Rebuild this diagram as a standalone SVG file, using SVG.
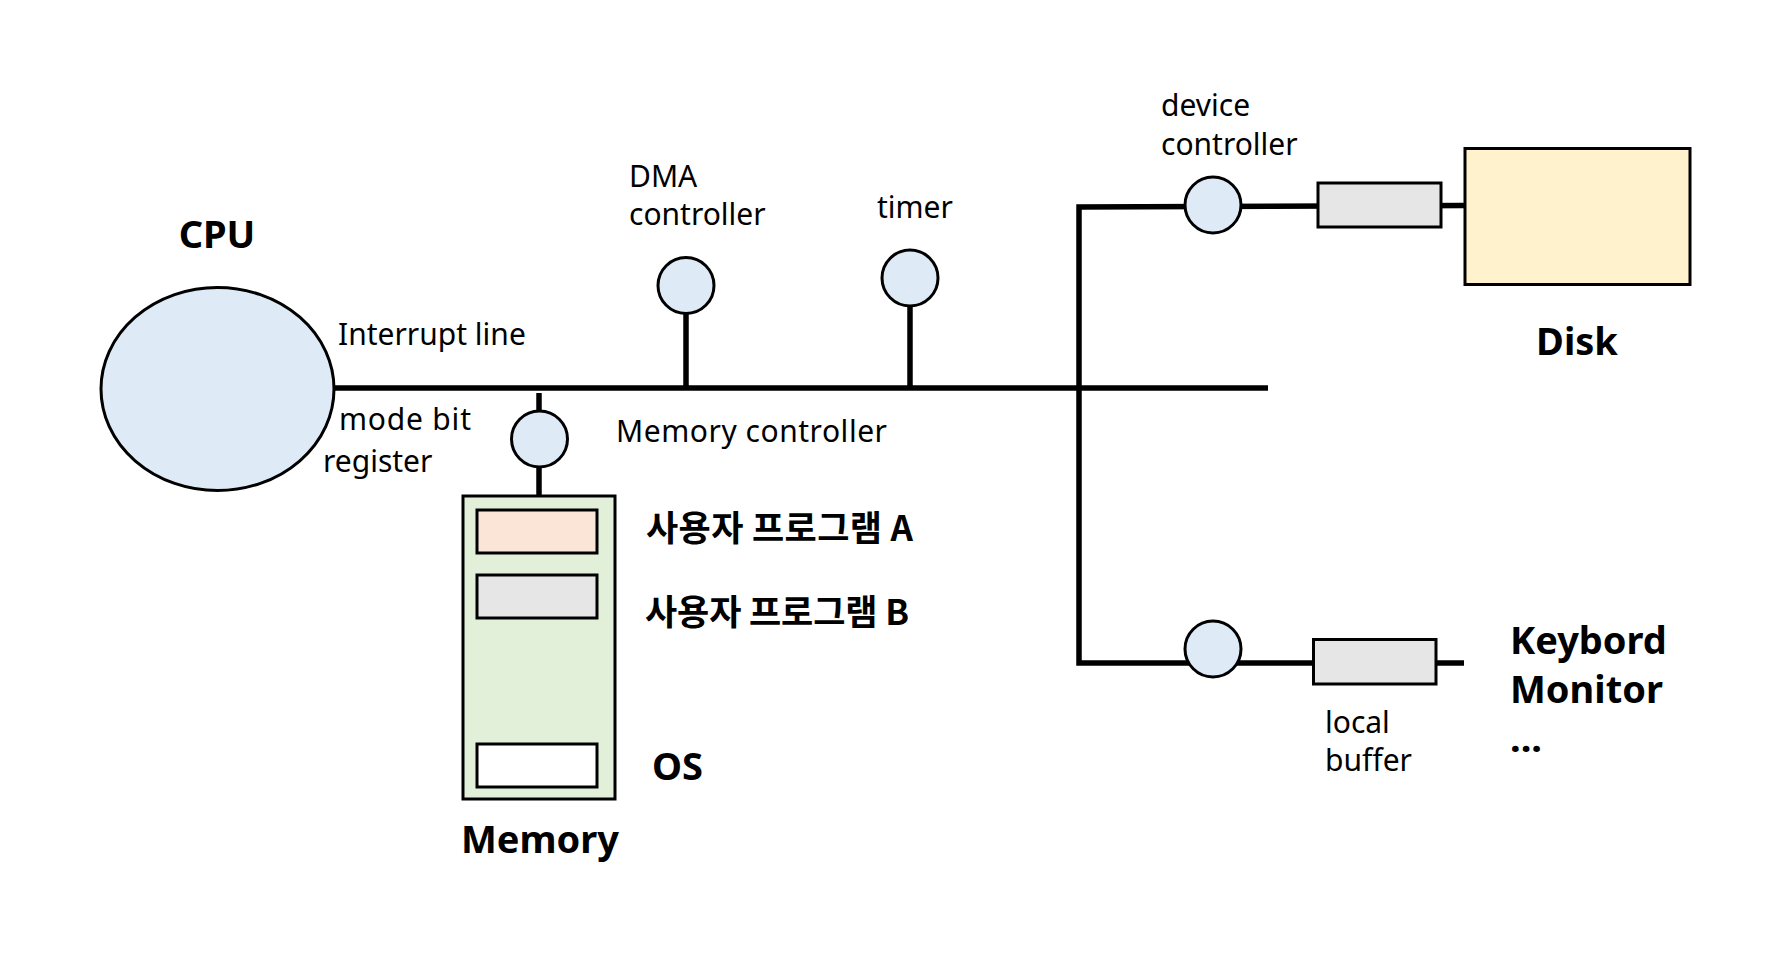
<svg xmlns="http://www.w3.org/2000/svg" width="1786" height="965" viewBox="0 0 1786 965">
<style>
.wire{stroke:#000;stroke-width:5.5;fill:none}
.node{stroke:#000;stroke-width:3}
.ctl{fill:#DEEBF7;stroke:#000;stroke-width:3}
.buf{fill:#E6E6E6;stroke:#000;stroke-width:3}
.lbl{font-family:"Noto Sans","Open Sans","Liberation Sans",sans-serif;font-size:30px;fill:#000}
.big{font-family:"Noto Sans","Open Sans","Liberation Sans",sans-serif;font-size:38px;font-weight:bold;fill:#000}
.kr{font-family:"Noto Sans CJK KR","Noto Sans",sans-serif;font-size:35px;font-weight:bold;fill:#000}
</style>
<rect width="1786" height="965" fill="#fff"/>
<g id="connectors">
<line class="wire" x1="333" y1="388" x2="1268" y2="388"/>
<line class="wire" x1="686" y1="312" x2="686" y2="388"/>
<line class="wire" x1="910" y1="305" x2="910" y2="388"/>
<line class="wire" x1="539" y1="393" x2="539" y2="412"/>
<line class="wire" x1="539" y1="466" x2="539" y2="496"/>
<path class="wire" d="M1464,205.5 L1079,207 L1079,663 L1464,663" stroke-linejoin="miter"/>
</g>
<g id="cpu">
<ellipse class="ctl" cx="217.5" cy="389" rx="116.5" ry="101.5"/>
<text class="big" x="217" y="248" text-anchor="middle">CPU</text>
<text class="lbl" x="338" y="345">Interrupt line</text>
<text class="lbl" x="339" y="430" textLength="132" lengthAdjust="spacing">mode bit</text>
<text class="lbl" x="323" y="472">register</text>
</g>
<g id="memory-controller">
<circle class="ctl" cx="539.5" cy="439" r="28"/>
<text class="lbl" x="616" y="442" textLength="271" lengthAdjust="spacing">Memory controller</text>
</g>
<g id="dma-controller">
<circle class="ctl" cx="686" cy="285.5" r="28"/>
<text class="lbl" x="629" y="187">DMA</text>
<text class="lbl" x="629" y="225">controller</text>
</g>
<g id="timer">
<circle class="ctl" cx="910" cy="278" r="28"/>
<text class="lbl" x="877" y="218">timer</text>
</g>
<g id="memory">
<rect class="node" x="463" y="496" width="152" height="303" fill="#E2F0D9"/>
<rect class="node" x="477" y="510" width="120" height="43" fill="#FBE5D6"/>
<rect class="node" x="477" y="575" width="120" height="43" fill="#E7E6E6"/>
<rect class="node" x="477" y="744" width="120" height="43" fill="#FFFFFF"/>
<text class="kr" x="646" y="541" textLength="267" lengthAdjust="spacing">사용자 프로그램 A</text>
<text class="kr" x="645" y="625" textLength="264" lengthAdjust="spacing">사용자 프로그램 B</text>
<text class="big" x="652" y="780" font-size="34">OS</text>
<text class="big" x="461" y="853" font-size="39">Memory</text>
</g>
<g id="device-controller">
<circle class="ctl" cx="1213" cy="205" r="28"/>
<text class="lbl" x="1161" y="116">device</text>
<text class="lbl" x="1161" y="155">controller</text>
</g>
<g id="disk-buffer">
<rect class="buf" x="1318" y="183" width="123" height="44"/>
</g>
<g id="disk">
<rect class="node" x="1465" y="148.5" width="225" height="136" fill="#FFF2CC"/>
<text class="big" x="1577" y="355" text-anchor="middle">Disk</text>
</g>
<g id="io-controller">
<circle class="ctl" cx="1213" cy="649" r="28"/>
</g>
<g id="local-buffer">
<rect class="buf" x="1313.5" y="639.5" width="122.5" height="44.5"/>
<text class="lbl" x="1325" y="733">local</text>
<text class="lbl" x="1325" y="771">buffer</text>
</g>
<g id="io-devices">
<text class="big" x="1510" y="654">Keybord</text>
<text class="big" x="1510" y="703">Monitor</text>
<text class="big" x="1510" y="752">...</text>
</g>
</svg>
